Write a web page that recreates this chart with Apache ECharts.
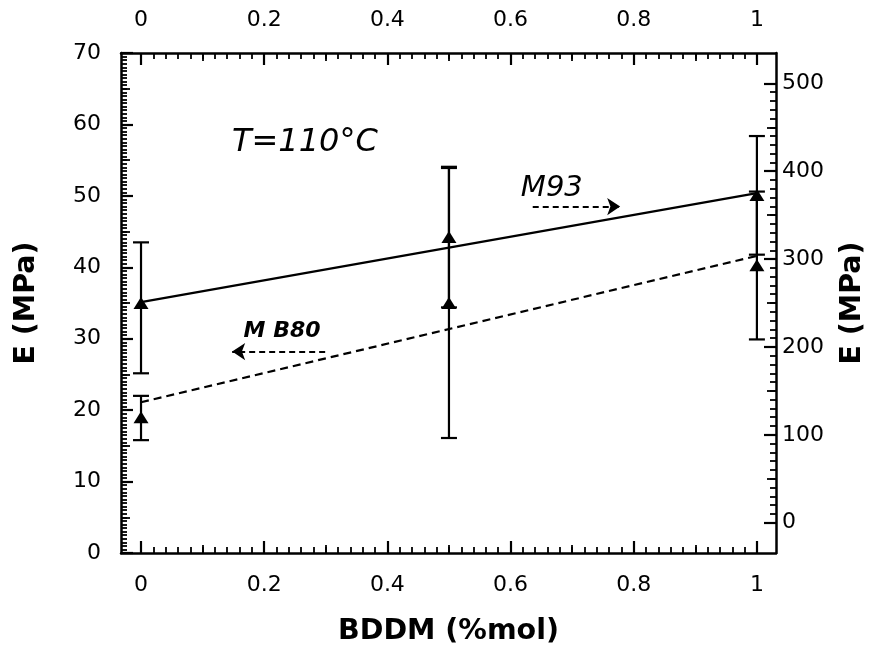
<!DOCTYPE html>
<html>
<head>
<meta charset="utf-8">
<script src="https://cdn.jsdelivr.net/npm/echarts@6/dist/echarts.min.js"></script>
<style>
html, body { margin: 0; padding: 0; background: #fff; }
#main { width: 870px; height: 654px; }
</style>
</head>
<body>
<div id="main"></div>
<script>
// BDDM content (%mol)
var bddm = [0, 0.5, 1];

// M93, read on the right axis (MPa)
var m93 = [250, 325, 373];
var m93Low = [170, 245, 305];
var m93High = [319, 405, 440];
var m93Fit = [[0, 251], [1, 375]];

// MB80, read on the left axis (MPa)
var mb80 = [19, 35, 40.3];
var mb80Low = [15.8, 16.1, 29.9];
var mb80High = [22, 53.9, 50.6];
var mb80Fit = [[0, 21.1], [1, 41.6]];

// tick labels
var xTicks = [0, 0.2, 0.4, 0.6, 0.8, 1];
var leftTicks = [0, 10, 20, 30, 40, 50, 60, 70];
var rightTicks = [0, 100, 200, 300, 400, 500];

function steps(a, b, step) {
    var out = [];
    for (var v = a; v <= b + 1e-9; v += step) out.push(+v.toFixed(4));
    return out;
}
var xMinor = steps(0, 1, 0.02), xMid = steps(0.1, 0.9, 0.2);
var leftMinor = steps(0, 70, 0.5), leftMid = steps(5, 65, 10);
var rightMinor = steps(0, 500, 10), rightMid = steps(50, 450, 100);

var FONT = '"DejaVu Sans", "Liberation Sans", sans-serif';
var X_MIN = -0.0325, X_MAX = 1.031;
var R_MIN = -34.5, R_MAX = 534.5;

// extra axes that only carry the shorter ticks
function tickAxis(pos, min, max, values, len) {
    return {
        type: 'value', position: pos, min: min, max: max,
        axisLine: { show: false, onZero: false },
        axisLabel: { show: false },
        splitLine: { show: false },
        axisTick: {
            show: true, inside: true, length: len, customValues: values,
            lineStyle: { color: '#000', width: 1.8 }
        }
    };
}

function mainAxis(pos, min, max, labels, extra) {
    var ax = {
        type: 'value', position: pos, min: min, max: max,
        axisLine: { show: true, onZero: false, lineStyle: { color: '#000', width: 2.5 } },
        axisTick: {
            show: true, inside: true, length: 12, customValues: labels,
            lineStyle: { color: '#000', width: 2.2 }
        },
        axisLabel: {
            show: true, customValues: labels, color: '#000',
            fontFamily: FONT, fontSize: 22, margin: 20
        },
        splitLine: { show: false }
    };
    for (var k in extra) ax[k] = extra[k];
    return ax;
}

var nameStyle = { fontFamily: FONT, fontSize: 28.5, fontWeight: 'bold', color: '#000' };

var xAxes = [
    mainAxis('bottom', X_MIN, X_MAX, xTicks, {
        name: 'BDDM (%mol)', nameLocation: 'middle', nameGap: 64, nameTextStyle: nameStyle
    }),
    tickAxis('bottom', X_MIN, X_MAX, xMinor, 6),
    tickAxis('bottom', X_MIN, X_MAX, xMid, 8),
    mainAxis('top', X_MIN, X_MAX, xTicks, {}),
    tickAxis('top', X_MIN, X_MAX, xMinor, 6),
    tickAxis('top', X_MIN, X_MAX, xMid, 8)
];
xAxes[0].axisLabel.margin = 21;
xAxes[3].axisLabel.margin = 22;

var yAxes = [
    mainAxis('left', 0, 70, leftTicks, {
        name: 'E (MPa)', nameLocation: 'middle', nameRotate: 90, nameGap: 80, nameTextStyle: nameStyle
    }),
    mainAxis('right', R_MIN, R_MAX, rightTicks, {
        name: 'E (MPa)', nameLocation: 'middle', nameRotate: 90, nameGap: 62, nameTextStyle: nameStyle
    }),
    tickAxis('left', 0, 70, leftMinor, 6),
    tickAxis('left', 0, 70, leftMid, 9),
    tickAxis('right', R_MIN, R_MAX, rightMinor, 6),
    tickAxis('right', R_MIN, R_MAX, rightMid, 9)
];
yAxes[1].axisLabel.margin = 6;

function errorBars(low, high, yIndex) {
    return {
        type: 'custom', xAxisIndex: 0, yAxisIndex: yIndex, z: 3, silent: true,
        encode: { x: 0, y: [1, 2] },
        data: bddm.map(function (x, i) { return [x, low[i], high[i]]; }),
        renderItem: function (params, api) {
            var lo = api.coord([api.value(0), api.value(1)]);
            var hi = api.coord([api.value(0), api.value(2)]);
            var w = 8;
            var st = { stroke: '#000', lineWidth: 2.2 };
            return {
                type: 'group',
                children: [
                    { type: 'line', shape: { x1: hi[0], y1: hi[1], x2: lo[0], y2: lo[1] }, style: st },
                    { type: 'line', shape: { x1: hi[0] - w, y1: hi[1], x2: hi[0] + w, y2: hi[1] }, style: st },
                    { type: 'line', shape: { x1: lo[0] - w, y1: lo[1], x2: lo[0] + w, y2: lo[1] }, style: st }
                ]
            };
        }
    };
}

function points(vals, yIndex) {
    return {
        type: 'scatter', xAxisIndex: 0, yAxisIndex: yIndex, z: 5,
        symbol: 'triangle', symbolSize: [15, 12],
        itemStyle: { color: '#000', opacity: 1 },
        data: bddm.map(function (x, i) { return [x, vals[i]]; })
    };
}

var dashed = { color: '#000', width: 2.2, type: [8, 5] };

var chart = echarts.init(document.getElementById('main'));
var option = {
    animation: false,
    backgroundColor: '#fff',
    grid: { left: 121, right: 94, top: 53, bottom: 101, outerBoundsMode: 'none' },
    xAxis: xAxes,
    yAxis: yAxes,
    series: [
        errorBars(m93Low, m93High, 1),
        errorBars(mb80Low, mb80High, 0),
        {
            type: 'line', xAxisIndex: 0, yAxisIndex: 1, z: 4,
            symbol: 'none', data: m93Fit,
            lineStyle: { color: '#000', width: 2.2 }
        },
        {
            type: 'line', xAxisIndex: 0, yAxisIndex: 0, z: 4,
            symbol: 'none', data: mb80Fit,
            lineStyle: dashed,
            markLine: {
                silent: true, symbol: ['none', 'arrow'], symbolSize: 13,
                label: { show: false },
                lineStyle: { color: '#000', width: 2, type: [6, 4] },
                data: [
                    [{ coord: [0.636, 48.5] }, { coord: [0.778, 48.5] }],
                    [{ coord: [0.299, 28.2] }, { coord: [0.148, 28.2] }]
                ]
            }
        },
        points(m93, 1),
        points(mb80, 0)
    ]
};
chart.setOption(option);

// text notes placed in left-axis coordinates
function note(text, at, font) {
    var p = chart.convertToPixel({ xAxisIndex: 0, yAxisIndex: 0 }, at);
    return {
        type: 'text', x: p[0], y: p[1], z: 10,
        style: { text: text, font: font, fill: '#000', align: 'center', verticalAlign: 'middle' }
    };
}
chart.setOption({
    graphic: [
        note('T=110°C', [0.266, 57.5], 'italic 32px ' + FONT),
        note('M93', [0.667, 51.1], 'italic 29px ' + FONT),
        note('M B80', [0.229, 31.1], 'italic bold 22px ' + FONT)
    ]
});
</script>
</body>
</html>
